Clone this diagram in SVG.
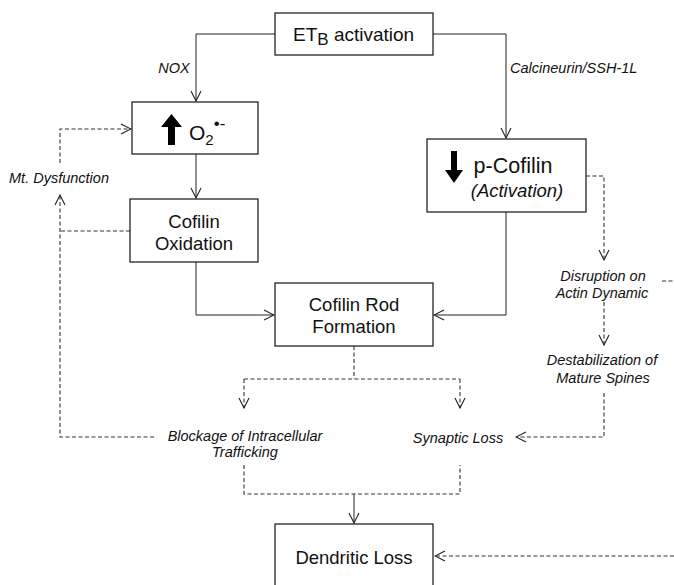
<svg xmlns="http://www.w3.org/2000/svg" width="674" height="585" viewBox="0 0 674 585">
<defs>
<style>
.box{fill:#fff;stroke:#111;stroke-width:1.2}
.ln{fill:none;stroke:#222;stroke-width:1}
.dl{fill:none;stroke:#333;stroke-width:1.1;stroke-dasharray:4 2.5}
.t{font-family:"Liberation Sans",Arial,sans-serif;font-size:18.5px;fill:#111;text-anchor:middle}
.it{font-family:"Liberation Sans",Arial,sans-serif;font-size:14.5px;font-style:italic;fill:#111;text-anchor:middle}
</style>
<marker id="a" viewBox="0 0 12 12" refX="11" refY="6" markerWidth="12" markerHeight="12" markerUnits="userSpaceOnUse" orient="auto">
<path d="M1,1 L11,6 L1,11" fill="none" stroke="#222" stroke-width="1.1"/>
</marker>
</defs>
<g id="connectors">
<path class="ln" d="M275,34 H196 V101" marker-end="url(#a)"/>
<path class="ln" d="M433,34 H506 V138" marker-end="url(#a)"/>
<path class="ln" d="M196,154 V198" marker-end="url(#a)"/>
<path class="ln" d="M196,262 V315 H274" marker-end="url(#a)"/>
<path class="ln" d="M506,212 V315 H434" marker-end="url(#a)"/>
<path class="dl" d="M60,163 V129 H131" marker-end="url(#a)"/>
<path class="dl" d="M130,231 H60"/>
<path class="dl" d="M154,437 H60 V195" marker-end="url(#a)"/>
<path class="dl" d="M354,346 V379"/>
<path class="dl" d="M244,379 H460"/>
<path class="dl" d="M244,379 V408" marker-end="url(#a)"/>
<path class="dl" d="M460,379 V408" marker-end="url(#a)"/>
<path class="dl" d="M586,176 H604 V260" marker-end="url(#a)"/>
<path class="dl" d="M604,302 V345" marker-end="url(#a)"/>
<path class="dl" d="M604,393 V437 H516" marker-end="url(#a)"/>
<path class="dl" d="M662,281 H674"/>
<path class="dl" d="M244,465 V494 H460 V465"/>
<path class="ln" d="M354,494 V523" marker-end="url(#a)"/>
<path class="dl" d="M674,556 H435" marker-end="url(#a)"/>
<text class="it" x="174" y="73">NOX</text>
<text class="it" x="510" y="73" style="text-anchor:start">Calcineurin/SSH-1L</text>
<text class="it" x="59" y="183">Mt. Dysfunction</text>
</g>
<g id="etb">
<rect class="box" x="275" y="13" width="158" height="42"/>
<text class="t" x="293" y="41" style="text-anchor:start;font-size:19px">ET<tspan dy="4" font-size="17">B</tspan><tspan dy="-4"> activation</tspan></text>
</g>
<g id="o2">
<rect class="box" x="132" y="102" width="126" height="52"/>
<polygon points="171.5,114 182,127 175,127 175,145 168,145 168,127 161,127" fill="#000"/>
<text class="t" x="189" y="140" style="text-anchor:start;font-size:21px">O<tspan dy="5" font-size="15">2</tspan><tspan dy="-16" font-size="17">•-</tspan></text>
</g>
<g id="pcofilin">
<rect class="box" x="427" y="139" width="159" height="73"/>
<polygon points="454,183 463,170 457,170 457,151 451,151 451,170 445,170" fill="#000"/>
<text class="t" x="513" y="173" style="font-size:21.5px">p-Cofilin</text>
<text class="t" x="517" y="197" style="font-style:italic">(Activation)</text>
</g>
<g id="oxidation">
<rect class="box" x="130" y="199" width="128" height="63"/>
<text class="t" x="194" y="228">Cofilin</text>
<text class="t" x="194" y="250">Oxidation</text>
</g>
<g id="rod">
<rect class="box" x="275" y="283" width="158" height="63"/>
<text class="t" x="354" y="311">Cofilin Rod</text>
<text class="t" x="354" y="333">Formation</text>
</g>
<g id="disruption">
<text class="it" x="603" y="281">Disruption on</text>
<text class="it" x="602" y="298">Actin Dynamic</text>
</g>
<g id="destab">
<text class="it" x="602" y="365">Destabilization of</text>
<text class="it" x="603" y="383">Mature Spines</text>
</g>
<g id="blockage">
<text class="it" x="245" y="441">Blockage of Intracellular</text>
<text class="it" x="245" y="457">Trafficking</text>
</g>
<g id="synaptic">
<text class="it" x="458" y="443">Synaptic Loss</text>
</g>
<g id="dendritic">
<rect class="box" x="275" y="524" width="158" height="70"/>
<text class="t" x="354" y="564">Dendritic Loss</text>
</g>
</svg>
